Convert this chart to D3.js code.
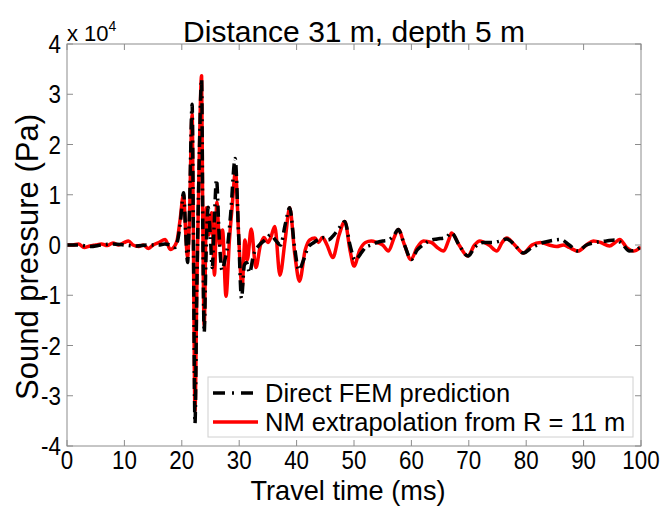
<!DOCTYPE html>
<html><head><meta charset="utf-8">
<script src="https://cdn.jsdelivr.net/npm/d3@7/dist/d3.min.js"></script>
<style>body{margin:0;background:#fff}svg{display:block}text{font-family:"Liberation Sans",Arial,sans-serif}</style>
</head><body><svg id="c" width="665" height="506"></svg>
<script>
const title = "Distance 31 m, depth 5 m";
const xLabel = "Travel time (ms)";
const yLabel = "Sound pressure (Pa)";
const xTicks = [0,10,20,30,40,50,60,70,80,90,100];
const yTicks = [-4,-3,-2,-1,0,1,2,3,4];
const seriesNames = ["Direct FEM prediction","NM extrapolation from R = 11 m"];
// values in units of 1e4 Pa, time in ms
const femTime = [0,2,4,6,8,10,12,14,16,17,18,18.8,19.3,19.8,20.3,20.7,21.0,21.3,21.8,22.0,22.3,22.6,23.0,23.45,23.65,23.9,24.2,24.6,25.0,25.3,25.6,26.05,26.5,27.0,27.5,28.0,28.5,29.3,29.9,30.4,30.9,31.3,31.8,32.5,33.5,34.5,35.5,36.3,37.2,38.0,38.8,39.6,40.4,41.2,42.0,43.0,44.0,44.8,45.5,46.5,47.5,48.4,49.3,50.2,51.0,52.0,53.0,54.0,55.0,56.0,57.0,57.7,58.8,60.0,61.0,62.0,63.5,64.5,66.0,67.0,68.3,69.9,71.0,72.5,74.0,75.5,76.6,78.0,79.5,81.0,83.0,85.0,86.0,87.5,89.0,90.5,92.0,94.0,95.5,96.5,98.0,99.0,100];
const femValue = [0,0,-0.03,0,0.02,0,-0.02,0,0,0.02,0,-0.05,0.1,0.5,1.04,0.2,-0.35,0.5,2.8,0.5,-3.55,-1.0,1.5,3.3,0.5,-1.74,-0.3,0.75,0.1,-0.45,0.3,1.3,0.2,-0.5,-0.3,0.0,0.6,1.72,0.2,-1.06,-0.4,-0.35,-0.55,-0.2,0.0,0.1,0.2,0.1,0.0,0.4,0.74,0.0,-0.5,-0.3,-0.05,0.05,0.12,0.15,0.1,0.2,0.35,0.47,0.0,-0.3,-0.2,-0.05,0.0,0.05,0.08,0.1,0.2,0.31,0.0,-0.29,-0.1,0.0,0.1,0.12,0.15,0.24,0.0,-0.22,-0.05,0.05,0.05,0.08,0.12,0.0,-0.16,-0.05,0.05,0.1,0.11,0.0,-0.12,0.0,0.05,0.08,0.1,0.05,-0.12,-0.1,-0.04];
const nmTime = [0,1,2,3,4,5,6,7,8,9,10,10.7,11.5,12.5,13.3,14.2,15,16,17.1,18,18.7,19.2,19.7,20.3,20.7,21.0,21.3,21.8,22.0,22.3,22.6,23.0,23.45,23.65,23.9,24.3,24.7,25.2,25.7,26.1,26.6,27.1,27.7,28.3,28.8,29.35,29.9,30.5,31.0,31.4,32.1,32.9,33.7,34.3,35.0,35.5,36.2,37.1,38.0,38.8,39.7,40.5,41.5,42.3,43.2,43.8,44.5,45.3,46.3,47.4,48.4,49.3,50.0,51.0,52.0,53.0,54.0,55.0,56.0,57.0,57.7,58.8,59.9,61.0,62.1,63.5,64.5,65.6,66.5,67.0,68.3,69.8,71.0,71.9,73.5,74.9,75.8,76.6,78.0,79.5,81.0,82.5,84.0,85.3,86.5,87.5,89.0,90.5,91.7,93.0,94.5,95.5,96.3,97.5,98.7,100];
const nmValue = [0,0,0.02,-0.05,-0.02,0.0,0.02,-0.01,0.04,0.0,0.05,0.08,0.0,-0.03,0.0,-0.07,0.0,0.05,0.11,-0.09,-0.03,0.1,0.5,1.0,0.2,-0.25,0.4,2.6,0.4,-3.3,-1.0,1.5,3.37,0.5,-1.6,0.74,0.2,0.64,-0.6,0.85,0.0,0.3,-1.02,0.1,0.8,1.47,0.2,-0.85,0.1,-0.3,0.32,-0.45,0.0,0.15,0.05,0.15,0.37,-0.6,0.1,0.74,-0.2,-0.72,-0.1,0.1,0.14,0.05,0.15,0.0,-0.25,0.2,0.47,-0.1,-0.42,-0.1,0.05,0.08,0.05,0.0,-0.12,0.15,0.31,0.0,-0.29,-0.05,0.08,0.05,-0.05,-0.12,0.1,0.24,0.0,-0.22,0.0,0.08,0.0,-0.12,0.05,0.14,0.0,-0.16,0.0,0.05,0.0,-0.03,0.0,-0.05,-0.12,0.0,0.08,0.05,-0.02,0.05,0.11,-0.05,-0.12,-0.04];

const svg = d3.select("#c");
const L=67, R=641, T=44, B=446;
const x = d3.scaleLinear().domain([0,100]).range([L,R]);
const y = d3.scaleLinear().domain([-4,4]).range([B,T]);
const axisColor = "#8c8c8c";
const dash = "11,5,2,5";

const tk = svg.append("g");
xTicks.forEach(v=>{
  tk.append("line").attr("x1",x(v)).attr("x2",x(v)).attr("y1",B).attr("y2",B-6).attr("stroke",axisColor);
  tk.append("line").attr("x1",x(v)).attr("x2",x(v)).attr("y1",T).attr("y2",T+6).attr("stroke",axisColor);
});
yTicks.forEach(v=>{
  tk.append("line").attr("x1",L).attr("x2",L+6).attr("y1",y(v)).attr("y2",y(v)).attr("stroke",axisColor);
  tk.append("line").attr("x1",R).attr("x2",R-6).attr("y1",y(v)).attr("y2",y(v)).attr("stroke",axisColor);
});

svg.append("clipPath").attr("id","pc").append("rect").attr("x",L).attr("y",T).attr("width",R-L).attr("height",B-T);
const line = d3.line().x(d=>x(d[0])).y(d=>y(d[1])).curve(d3.curveMonotoneX);
const nm = nmTime.map((t,i)=>[t,nmValue[i]]);
const fem = femTime.map((t,i)=>[t,femValue[i]]);
const g = svg.append("g").attr("clip-path","url(#pc)");
g.append("path").attr("d",line(nm)).attr("fill","none").attr("stroke","#ff0000").attr("stroke-width",3.5).attr("stroke-linejoin","round");
g.append("path").attr("d",line(fem)).attr("fill","none").attr("stroke","#000").attr("stroke-width",3.5).attr("stroke-dasharray",dash);

svg.append("rect").attr("x",L).attr("y",T).attr("width",R-L).attr("height",B-T).attr("fill","none").attr("stroke",axisColor).attr("stroke-width",1);

// tick labels (condensed)
const fx = 26, sx = 0.86;
xTicks.forEach(v=>{
  svg.append("text").attr("transform",`translate(${x(v)},469) scale(${sx},1)`).attr("text-anchor","middle").attr("font-size",fx).attr("fill","#000").text(v);
});
yTicks.forEach(v=>{
  svg.append("text").attr("transform",`translate(${L-6},${y(v)+9}) scale(${sx},1)`).attr("text-anchor","end").attr("font-size",fx).attr("fill","#000").text(v);
});
svg.append("text").attr("x",67).attr("y",41).attr("font-size",22).attr("fill","#000").text("x 10").append("tspan").attr("font-size",14).attr("dy",-10).text("4");

svg.append("text").attr("x",354).attr("y",42).attr("text-anchor","middle").attr("font-size",30).attr("fill","#000").text(title);
svg.append("text").attr("transform","translate(348,500) scale(0.97,1)").attr("text-anchor","middle").attr("font-size",28).attr("fill","#000").text(xLabel);
svg.append("text").attr("transform","translate(38,257) rotate(-90)").attr("text-anchor","middle").attr("font-size",31).attr("fill","#000").text(yLabel);

// legend
const lg = svg.append("g");
lg.append("rect").attr("x",208).attr("y",377).attr("width",425).attr("height",60).attr("fill","#fff").attr("stroke","#d0d0d0");
lg.append("line").attr("x1",213).attr("x2",258).attr("y1",393).attr("y2",393).attr("stroke","#000").attr("stroke-width",3.5).attr("stroke-dasharray","12,7,2,7");
lg.append("line").attr("x1",213).attr("x2",258).attr("y1",422).attr("y2",422).attr("stroke","#ff0000").attr("stroke-width",3.5);
lg.append("text").attr("x",265).attr("y",402).attr("font-size",25.5).attr("fill","#000").text(seriesNames[0]);
lg.append("text").attr("x",265).attr("y",431).attr("font-size",25.5).attr("fill","#000").text(seriesNames[1]);
</script></body></html>
